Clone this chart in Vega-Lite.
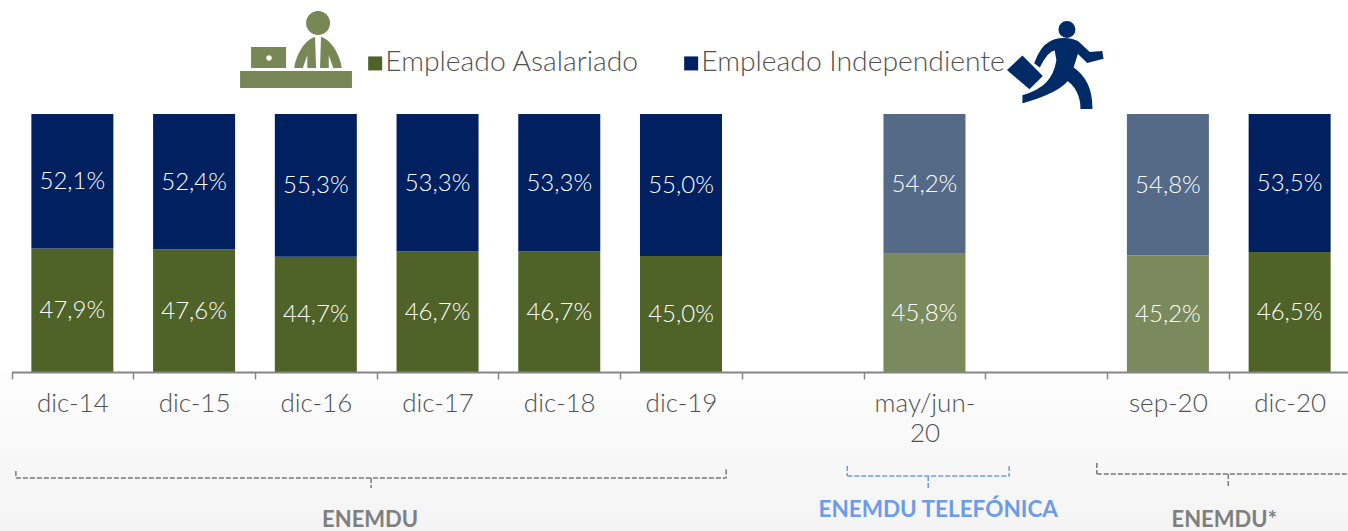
{"$schema":"https://vega.github.io/schema/vega-lite/v6.json","width":1348,"height":372,"autosize":"none","padding":{"left":0,"top":0,"right":0,"bottom":159},"background":"#ffffff","config":{"view":{"stroke":null}},
"datasets":{
"cifras":[
{"periodo":"dic-14","serie":"Empleado Asalariado","tono":"Empleado Asalariado","valor":47.9,"etiqueta":"47,9%"},
{"periodo":"dic-14","serie":"Empleado Independiente","tono":"Empleado Independiente","valor":52.1,"etiqueta":"52,1%"},
{"periodo":"dic-15","serie":"Empleado Asalariado","tono":"Empleado Asalariado","valor":47.6,"etiqueta":"47,6%"},
{"periodo":"dic-15","serie":"Empleado Independiente","tono":"Empleado Independiente","valor":52.4,"etiqueta":"52,4%"},
{"periodo":"dic-16","serie":"Empleado Asalariado","tono":"Empleado Asalariado","valor":44.7,"etiqueta":"44,7%"},
{"periodo":"dic-16","serie":"Empleado Independiente","tono":"Empleado Independiente","valor":55.3,"etiqueta":"55,3%"},
{"periodo":"dic-17","serie":"Empleado Asalariado","tono":"Empleado Asalariado","valor":46.7,"etiqueta":"46,7%"},
{"periodo":"dic-17","serie":"Empleado Independiente","tono":"Empleado Independiente","valor":53.3,"etiqueta":"53,3%"},
{"periodo":"dic-18","serie":"Empleado Asalariado","tono":"Empleado Asalariado","valor":46.7,"etiqueta":"46,7%"},
{"periodo":"dic-18","serie":"Empleado Independiente","tono":"Empleado Independiente","valor":53.3,"etiqueta":"53,3%"},
{"periodo":"dic-19","serie":"Empleado Asalariado","tono":"Empleado Asalariado","valor":45.0,"etiqueta":"45,0%"},
{"periodo":"dic-19","serie":"Empleado Independiente","tono":"Empleado Independiente","valor":55.0,"etiqueta":"55,0%"},
{"periodo":"may/jun-20","serie":"Empleado Asalariado","tono":"Asalariado especial","valor":45.8,"etiqueta":"45,8%"},
{"periodo":"may/jun-20","serie":"Empleado Independiente","tono":"Independiente especial","valor":54.2,"etiqueta":"54,2%"},
{"periodo":"sep-20","serie":"Empleado Asalariado","tono":"Asalariado especial","valor":45.2,"etiqueta":"45,2%"},
{"periodo":"sep-20","serie":"Empleado Independiente","tono":"Independiente especial","valor":54.8,"etiqueta":"54,8%"},
{"periodo":"dic-20","serie":"Empleado Asalariado","tono":"Empleado Asalariado","valor":46.5,"etiqueta":"46,5%"},
{"periodo":"dic-20","serie":"Empleado Independiente","tono":"Empleado Independiente","valor":53.5,"etiqueta":"53,5%"}],
"corchetes":[
{"grupo":"ENEMDU","a":0.04,"b":5.875,"c":-41.1,"d":-41.1},
{"grupo":"ENEMDU","a":0.04,"b":0.04,"c":-38.4,"d":-41.1},
{"grupo":"ENEMDU","a":5.875,"b":5.875,"c":-37.8,"d":-41.1},
{"grupo":"ENEMDU","a":2.958,"b":2.958,"c":-41.1,"d":-45},
{"grupo":"ENEMDU*","a":8.92,"b":10.99,"c":-39.5,"d":-39.5},
{"grupo":"ENEMDU*","a":8.92,"b":8.92,"c":-35.3,"d":-39.5},
{"grupo":"ENEMDU*","a":10.0,"b":10.0,"c":-39.5,"d":-45},
{"grupo":"TEL","a":6.87,"b":8.2,"c":-40.3,"d":-40.3},
{"grupo":"TEL","a":6.87,"b":6.87,"c":-36.4,"d":-40.3},
{"grupo":"TEL","a":8.2,"b":8.2,"c":-36.4,"d":-40.3},
{"grupo":"TEL","a":7.535,"b":7.535,"c":-40.3,"d":-45}]
},
"resolve":{"scale":{"x":"independent"}},
"layer":[
{"layer":[
{"data":{"values":[{"a":-0.1,"b":11.1,"c":0,"d":-62}]},
"mark":{"type":"rect","fill":{"gradient":"linear","x1":0,"y1":0,"x2":0,"y2":1,"stops":[{"offset":0,"color":"#fdfdfd"},{"offset":0.5,"color":"#f8f8f8"},{"offset":1,"color":"#f4f4f4"}]}},
"encoding":{"x":{"field":"a","type":"quantitative","scale":{"domain":[0,11],"range":[11,1350]},"axis":null},"x2":{"field":"b"},"y":{"field":"c","type":"quantitative","scale":{"domain":[0,100],"range":[372,114],"nice":false,"zero":false},"axis":null},"y2":{"field":"d"}}},
{"data":{"name":"corchetes"},"transform":[{"filter":"datum.grupo!='TEL'"}],
"mark":{"type":"rule","color":"#7a7a7a","strokeWidth":1.5,"strokeDash":[5,2]},
"encoding":{"x":{"field":"a","type":"quantitative","axis":null},"x2":{"field":"b"},"y":{"field":"c","type":"quantitative","axis":null},"y2":{"field":"d"}}},
{"data":{"name":"corchetes"},"transform":[{"filter":"datum.grupo=='TEL'"}],
"mark":{"type":"rule","color":"#6b9bf0","strokeWidth":1.5,"strokeDash":[5,2]},
"encoding":{"x":{"field":"a","type":"quantitative","axis":null},"x2":{"field":"b"},"y":{"field":"c","type":"quantitative","axis":null},"y2":{"field":"d"}}},
{"data":{"values":[{"texto":"ENEMDU","a":2.95,"c":-57.4},{"texto":"ENEMDU*","a":9.967,"c":-57.4}]},
"mark":{"type":"text","font":"Lato","fontWeight":"bold","fontSize":22,"color":"#7f7f7f","align":"center","baseline":"middle"},
"encoding":{"x":{"field":"a","type":"quantitative","axis":null},"y":{"field":"c","type":"quantitative","axis":null},"text":{"field":"texto"}}},
{"data":{"values":[{"texto":"ENEMDU TELEFÓNICA","a":7.617,"c":-53.5}]},
"mark":{"type":"text","font":"Lato","fontWeight":"bold","fontSize":22.5,"color":"#6c9bea","align":"center","baseline":"middle"},
"encoding":{"x":{"field":"a","type":"quantitative","axis":null},"y":{"field":"c","type":"quantitative","axis":null},"text":{"field":"texto"}}},
{"data":{"values":[{"icono":"oficinista","a":2.346,"c":125.2}]},
"mark":{"type":"point","filled":true,"opacity":1,"color":"#778755","size":12769,"shape":"M-1 0.389 L0.98 0.389 L0.98 0.69 L-1 0.69 Z M-0.805 -0.035 L-0.186 -0.035 L-0.186 0.336 L-0.805 0.336 Z M-0.537 0.159 a0.05 0.05 0 1 0 0.1 0 a0.05 0.05 0 1 0 -0.1 0 Z M0.169 -0.46 a0.212 0.212 0 1 0 0.424 0 a0.212 0.212 0 1 0 -0.424 0 Z M-0.04 0.336 C-0.03 0.2 0.1 -0.15 0.327 -0.212 L0.345 0.336 L0.19 0.336 L0.19 0.11 L0.11 0.336 Z M0.8 0.336 C0.79 0.2 0.66 -0.15 0.433 -0.212 L0.415 0.336 L0.57 0.336 L0.57 0.11 L0.65 0.336 Z"},
"encoding":{"x":{"field":"a","type":"quantitative","axis":null},"y":{"field":"c","type":"quantitative","axis":null}}},
{"data":{"values":[{"icono":"independiente","a":8.58,"c":119.4}]},
"mark":{"type":"point","filled":true,"opacity":1,"color":"#002b66","stroke":"#002b66","strokeWidth":2,"size":8836,"shape":"M-0.128 -0.447 C0.043 -0.553 0.298 -0.553 0.468 -0.468 L0.723 -0.234 L0.979 -0.255 L1 -0.128 L0.681 -0.043 L0.468 -0.255 L0.362 0.085 C0.617 0.255 0.766 0.553 0.766 0.936 L0.553 0.936 C0.553 0.66 0.426 0.447 0.255 0.34 C0.085 0.553 -0.298 0.702 -0.681 0.809 L-0.681 0.681 C-0.255 0.553 -0.021 0.34 0.043 -0.085 L0 -0.319 C-0.128 -0.298 -0.234 -0.17 -0.34 0.043 L-0.426 -0.021 C-0.34 -0.255 -0.255 -0.383 -0.128 -0.447 Z M0.085 -0.734 a0.16 0.16 0 1 0 0.32 0 a0.16 0.16 0 1 0 -0.32 0 Z M-1 0.128 L-0.702 -0.149 L-0.298 0.255 L-0.553 0.511 Z"},
"encoding":{"x":{"field":"a","type":"quantitative","axis":null},"y":{"field":"c","type":"quantitative","axis":null}}}
]},
{"data":{"name":"cifras"},"layer":[
{"mark":{"type":"bar","width":82},
"encoding":{
"x":{"field":"periodo","type":"nominal","sort":null,"title":null,"scale":{"domain":["dic-14","dic-15","dic-16","dic-17","dic-18","dic-19","_a","may/jun-20","_b","sep-20","dic-20"],"range":[11.5,1350.5],"paddingInner":0,"paddingOuter":0},
"axis":{"zindex":1,"tickBand":"extent","labelAngle":0,"labelOverlap":false,"labelFont":"Lato","labelFontSize":26,"labelFontWeight":300,"labelColor":"#505050","labelPadding":11,"labelLineHeight":30,"labelBaseline":"top","tickColor":"#868686","tickSize":7,"tickWidth":1.5,"domainColor":"#868686","domainWidth":2,"grid":false,"labelExpr":"datum.label=='may/jun-20'?['may/jun-','20']:(datum.label[0]=='_'?'':datum.label)"}},
"y":{"field":"valor","type":"quantitative","stack":"zero","axis":null},
"order":{"field":"serie","sort":"ascending"},
"color":{"field":"tono","type":"nominal","scale":{"domain":["Empleado Asalariado","Empleado Independiente","Asalariado especial","Independiente especial"],"range":["#4f6228","#002060","#7a8a5c","#546a87"]},
"legend":{"title":null,"values":["Empleado Asalariado","Empleado Independiente"],"orient":"none","legendX":361,"legendY":49,"direction":"horizontal","symbolType":"square","symbolSize":196,"symbolStrokeWidth":0,"labelFont":"Lato","labelFontSize":28.3,"labelFontWeight":300,"labelColor":"#505050","labelOffset":-4,"labelLimit":400,"columnPadding":38,"symbolOpacity":1,"labelOpacity":1}}}},
{"transform":[{"stack":"valor","groupby":["periodo"],"sort":[{"field":"serie","order":"ascending"}],"as":["v0","v1"]},{"calculate":"(datum.v0+datum.v1)/2","as":"medio"}],
"mark":{"type":"text","font":"Lato","fontSize":24,"fontWeight":300,"dy":1,"color":"#ffffff","align":"center","baseline":"middle"},
"encoding":{"x":{"field":"periodo","type":"nominal","sort":null},"y":{"field":"medio","type":"quantitative","axis":null},"text":{"field":"etiqueta"}}}
]}
]}
